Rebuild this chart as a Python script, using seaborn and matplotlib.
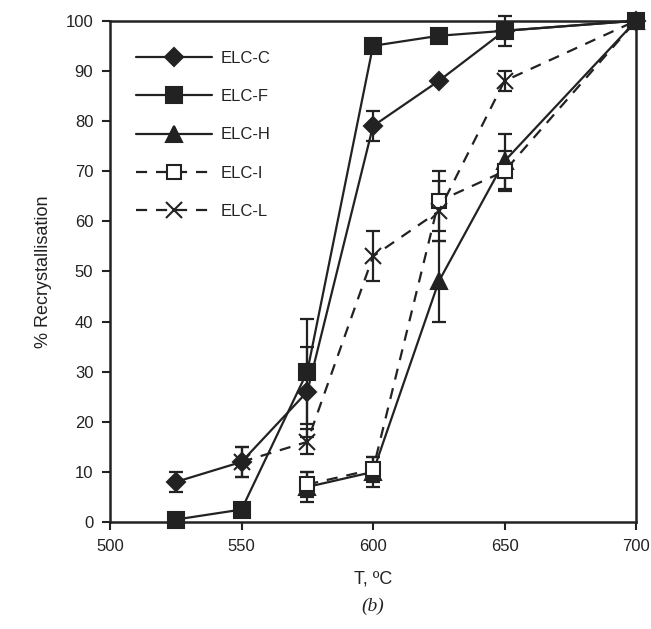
import matplotlib
matplotlib.use("Agg")
import matplotlib.pyplot as plt
import seaborn as sns
import numpy as np
import pandas as pd

# Recrystallisation fraction (%) vs annealing temperature (°C)
temps_c = [525, 550, 575, 600, 625, 650, 700]
elc_c = [8, 12, 26, 79, 88, 98, 100]
elc_c_err = [2, 3, 9, 3, 0, 0, 0]

temps_f = [525, 550, 575, 600, 625, 650, 700]
elc_f = [0.5, 2.5, 30, 95, 97, 98, 100]
elc_f_err = [0, 0, 10.5, 0, 0, 3, 0]

temps_h = [575, 600, 625, 650, 700]
elc_h = [7, 10, 48, 72, 100]
elc_h_err = [3, 3, 8, 5.5, 0]

temps_i = [575, 600, 625, 650, 700]
elc_i = [7.5, 10.5, 64, 70, 100]
elc_i_err = [2.5, 2.5, 6, 4, 0]

temps_l = [550, 575, 600, 625, 650, 700]
elc_l = [12, 16, 53, 62, 88, 100]
elc_l_err = [3, 2.5, 5, 6, 2, 0]

x_ticks = [500, 550, 600, 650, 700]
y_ticks = list(range(0, 101, 10))

sns.set_theme(style="ticks")
plt.rcParams["font.family"] = ["Liberation Sans", "DejaVu Sans"]

fig = plt.figure(figsize=(6.51, 6.29), dpi=100)
ax = fig.add_axes([0.169, 0.170, 0.808, 0.797])

ink = "#222222"
# name, x, y, error, marker, face colour, line style, marker size, layer
series = [
    ("ELC-C", temps_c, elc_c, elc_c_err, "D", ink, "-", 9.5, 3),
    ("ELC-F", temps_f, elc_f, elc_f_err, "s", ink, "-", 11, 4),
    ("ELC-H", temps_h, elc_h, elc_h_err, "^", ink, "-", 11, 3),
    ("ELC-I", temps_i, elc_i, elc_i_err, "s", "white", (0, (5, 4)), 9.5, 3),
    ("ELC-L", temps_l, elc_l, elc_l_err, "x", ink, (0, (5, 4)), 11, 3),
]

for name, xs, ys, errs, mk, face, ls, ms, z in series:
    df = pd.DataFrame({"T": xs, "R": ys})
    sns.lineplot(data=df, x="T", y="R", ax=ax, color=ink, linewidth=1.6,
                 linestyle=ls, marker=mk, markersize=ms,
                 markerfacecolor=face, markeredgecolor=ink,
                 markeredgewidth=1.5, label=name, zorder=z, clip_on=False)
    e = np.array(errs, dtype=float)
    m = e > 0
    ax.errorbar(np.array(xs)[m], np.array(ys)[m], yerr=e[m], fmt="none",
                ecolor=ink, elinewidth=1.6, capsize=5, capthick=1.6, zorder=2,
                clip_on=False)

ax.set_xlim(500, 700)
ax.set_ylim(0, 100)
ax.set_xticks(x_ticks)
ax.set_yticks(y_ticks)
ax.tick_params(axis="both", labelsize=12, colors=ink, direction="out",
               length=6, width=1.5, pad=6)
for side in ["left", "bottom", "top", "right"]:
    ax.spines[side].set_visible(True)
    ax.spines[side].set_linewidth(1.8)
    ax.spines[side].set_color(ink)
ax.set_xlabel("T, ºC", fontsize=13, color=ink, labelpad=12)
ax.set_ylabel("% Recrystallisation", fontsize=13, color=ink, labelpad=10)

leg = ax.legend(loc="upper left", bbox_to_anchor=(0.02, 0.97), frameon=False,
                fontsize=12, handlelength=4.6, labelspacing=1.4,
                handletextpad=0.5)
for t in leg.get_texts():
    t.set_color(ink)

fig.text(0.573, 0.028, "(b)", fontsize=14, style="italic",
         family=["Liberation Serif", "DejaVu Serif"], ha="center", color=ink)

fig.savefig("out.png", dpi=100, facecolor="white")
